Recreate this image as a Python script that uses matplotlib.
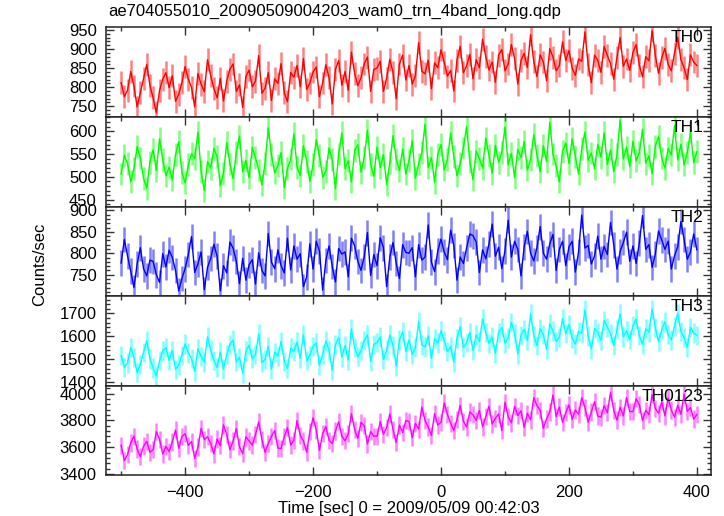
import numpy as np
import matplotlib
matplotlib.use('Agg')
import matplotlib.pyplot as plt
from matplotlib.ticker import MultipleLocator, AutoMinorLocator

# light curve bins (5 s), start time relative to 2009/05/09 00:42:03
t_start = -500
bin_sec = 5

th0 = [812, 775, 792, 841, 803, 748, 786, 822, 860, 805,
       772, 733, 791, 821, 838, 799, 830, 763, 781, 812,
       854, 821, 800, 748, 836, 808, 788, 872, 830, 797,
       772, 823, 764, 816, 847, 861, 789, 806, 747, 828,
       845, 801, 816, 883, 784, 797, 838, 765, 822, 810,
       862, 785, 762, 839, 826, 857, 801, 875, 794, 811,
       840, 853, 775, 811, 859, 825, 756, 847, 870, 805,
       841, 792, 892, 836, 804, 825, 861, 879, 789, 847,
       850, 868, 789, 824, 873, 839, 770, 861, 884, 819,
       857, 808, 830, 917, 842, 835, 871, 796, 864, 851,
       898, 865, 829, 844, 790, 871, 907, 838, 856, 886,
       822, 872, 851, 926, 880, 845, 866, 813, 884, 899,
       843, 861, 912, 876, 808, 870, 889, 852, 938, 867,
       828, 885, 866, 817, 901, 879, 843, 857, 919, 870,
       896, 850, 831, 874, 868, 945, 859, 812, 884, 871,
       839, 907, 883, 862, 821, 878, 930, 855, 874, 844,
       891, 912, 858, 827, 880, 869, 948, 884, 836, 877,
       902, 860, 843, 889, 931, 872, 851, 820, 885, 866,
       857]

th1 = [506, 547, 529, 489, 518, 566, 541, 497, 475, 532,
       559, 514, 583, 538, 502, 521, 493, 548, 577, 509,
       487, 526, 551, 540, 598, 512, 470, 533, 519, 562,
       544, 481, 507, 575, 528, 496, 553, 589, 511, 536,
       498, 564, 542, 515, 482, 530, 607, 548, 509, 525,
       553, 476, 518, 539, 594, 521, 503, 568, 534, 490,
       527, 581, 546, 499, 512, 563, 537, 474, 550, 596,
       518, 535, 489, 557, 570, 510, 543, 602, 527, 501,
       565, 520, 548, 483, 531, 590, 539, 514, 561, 506,
       536, 579, 497, 528, 553, 615, 520, 542, 488, 549,
       571, 515, 537, 596, 544, 502, 529, 563, 610, 533,
       494, 556, 540, 519, 585, 547, 508, 569, 532, 553,
       609, 526, 551, 498, 560, 542, 577, 515, 538, 592,
       547, 511, 568, 533, 619, 550, 524, 489, 556, 574,
       529, 583, 545, 506, 562, 598, 536, 552, 517, 571,
       543, 596, 527, 559, 511, 548, 624, 539, 565, 522,
       578, 535, 553, 604, 530, 546, 507, 567, 589, 541,
       519, 562, 548, 612, 537, 571, 526, 553, 598, 531,
       555]

th2 = [777, 832, 794, 758, 720, 775, 813, 764, 747, 784,
       781, 750, 732, 799, 768, 807, 790, 760, 712, 741,
       764, 797, 839, 755, 775, 803, 715, 767, 788, 821,
       793, 712, 771, 754, 826, 812, 781, 729, 788, 737,
       773, 785, 728, 801, 760, 747, 846, 779, 764, 808,
       771, 754, 835, 761, 817, 786, 799, 722, 745, 822,
       763, 828, 805, 714, 783, 817, 769, 733, 811, 798,
       803, 745, 835, 817, 781, 760, 792, 848, 748, 797,
       771, 836, 813, 722, 791, 825, 776, 741, 820, 802,
       800, 813, 745, 820, 784, 791, 866, 779, 757, 806,
       833, 803, 785, 854, 818, 737, 791, 776, 812, 845,
       841, 826, 755, 808, 787, 822, 868, 793, 814, 764,
       806, 877, 791, 828, 809, 747, 815, 851, 800, 782,
       813, 862, 800, 786, 822, 844, 760, 809, 828, 771,
       815, 828, 756, 803, 889, 812, 818, 775, 794, 840,
       786, 816, 797, 872, 820, 763, 804, 825, 849, 781,
       817, 776, 824, 888, 809, 820, 767, 798, 852, 831,
       809, 828, 763, 794, 815, 874, 832, 786, 803, 845,
       808]

th3 = [1517, 1466, 1484, 1552, 1508, 1443, 1479, 1530, 1582, 1502,
       1462, 1428, 1494, 1537, 1551, 1496, 1540, 1457, 1476, 1518,
       1567, 1528, 1505, 1447, 1546, 1513, 1488, 1598, 1541, 1496,
       1465, 1532, 1458, 1521, 1566, 1584, 1490, 1509, 1441, 1537,
       1561, 1503, 1522, 1611, 1486, 1500, 1556, 1459, 1531, 1514,
       1578, 1492, 1461, 1549, 1535, 1575, 1505, 1607, 1495, 1518,
       1556, 1571, 1475, 1521, 1580, 1539, 1452, 1564, 1595, 1511,
       1560, 1497, 1632, 1551, 1512, 1538, 1583, 1607, 1490, 1566,
       1573, 1598, 1499, 1541, 1606, 1559, 1471, 1585, 1619, 1534,
       1584, 1522, 1552, 1664, 1563, 1554, 1603, 1505, 1590, 1571,
       1624, 1583, 1535, 1556, 1488, 1592, 1641, 1551, 1573, 1617,
       1539, 1606, 1579, 1676, 1616, 1570, 1597, 1527, 1617, 1638,
       1571, 1593, 1661, 1613, 1524, 1605, 1630, 1583, 1698, 1602,
       1560, 1633, 1607, 1545, 1654, 1623, 1578, 1596, 1677, 1612,
       1651, 1591, 1567, 1622, 1614, 1715, 1601, 1545, 1634, 1618,
       1583, 1669, 1639, 1612, 1560, 1630, 1697, 1598, 1624, 1586,
       1646, 1675, 1604, 1565, 1633, 1618, 1718, 1639, 1577, 1629,
       1663, 1607, 1585, 1644, 1700, 1621, 1594, 1553, 1639, 1614,
       1605]

th0123 = [3614, 3500, 3544, 3632, 3682, 3586, 3528, 3608, 3644, 3562,
          3581, 3717, 3659, 3549, 3605, 3567, 3639, 3729, 3591, 3681,
          3700, 3614, 3642, 3516, 3600, 3740, 3656, 3678, 3628, 3550,
          3661, 3611, 3767, 3695, 3581, 3645, 3739, 3603, 3551, 3677,
          3647, 3615, 3693, 3790, 3657, 3561, 3627, 3681, 3725, 3593,
          3590, 3678, 3746, 3616, 3652, 3798, 3688, 3646, 3562, 3716,
          3820, 3728, 3576, 3702, 3754, 3652, 3626, 3720, 3790, 3682,
          3648, 3700, 3850, 3732, 3666, 3786, 3760, 3624, 3716, 3682,
          3681, 3791, 3697, 3747, 3849, 3731, 3635, 3765, 3709, 3799,
          3792, 3670, 3778, 3734, 3900, 3800, 3750, 3688, 3852, 3766,
          3786, 3930, 3846, 3778, 3724, 3808, 3912, 3794, 3750, 3862,
          3842, 3800, 3874, 3752, 3830, 3906, 3774, 3816, 3848, 3724,
          3936, 3828, 3782, 3906, 3836, 3872, 3748, 3854, 3804, 3970,
          3911, 3875, 3741, 3811, 3863, 3990, 3829, 3899, 3785, 3857,
          3916, 3808, 3878, 3846, 3970, 3898, 3786, 3864, 3940, 3832,
          3824, 3910, 3858, 4010, 3876, 3802, 3898, 3834, 3972, 3866,
          3866, 3962, 3918, 3798, 3876, 3844, 3992, 3890, 3854, 3940,
          3834, 3968, 3878, 3824, 3914, 3846, 3996, 3868, 3896, 3810,
          3845]

# typical 1-sigma error per band
errs = [30, 25, 30, 42, 65]

names = ['TH0', 'TH1', 'TH2', 'TH3', 'TH0123']
yticks = [[750, 800, 850, 900, 950],
          [450, 500, 550, 600],
          [750, 800, 850, 900],
          [1400, 1500, 1600, 1700],
          [3400, 3600, 3800, 4000]]
ylims = [(722, 957), (435, 631), (700, 909), (1386, 1775), (3390, 4060)]
colors = ['#ff0000', '#00ff00', '#0000ff', '#00ffff', '#ff00ff']

plt.rcParams['font.family'] = ['Liberation Sans', 'DejaVu Sans']
plt.rcParams['font.size'] = 12

fig, axes = plt.subplots(5, 1, figsize=(7.24, 5.16), dpi=100, sharex=True)
fig.subplots_adjust(left=0.147, right=0.982, top=0.947, bottom=0.079, hspace=0)

series = [th0, th1, th2, th3, th0123]
for ax, vals, err, name, yt, yl, col in zip(axes, series, errs, names, yticks, ylims, colors):
    vals = np.array(vals)
    t = t_start + bin_sec * np.arange(len(vals))
    ax.errorbar(t, vals, yerr=err, fmt='none', ecolor=col, alpha=0.5, elinewidth=1.8)
    ax.plot(t, vals, color=col, lw=1.0)
    ax.set_ylim(yl)
    ax.set_yticks(yt)
    ax.yaxis.set_minor_locator(AutoMinorLocator(5))
    ax.xaxis.set_major_locator(MultipleLocator(200))
    ax.xaxis.set_minor_locator(MultipleLocator(100))
    ax.tick_params(which='both', direction='in', top=True, right=True, width=1, color='#333333')
    ax.tick_params(which='major', length=6, pad=7)
    ax.tick_params(which='minor', length=3)
    for s in ax.spines.values():
        s.set_linewidth(1.1)
        s.set_color('#222222')
    ax.text(0.987, 0.965, name, transform=ax.transAxes, ha='right', va='top', fontsize=12.5)

axes[-1].set_xlim(-523, 422)
axes[-1].set_xlabel('Time [sec] 0 = 2009/05/09 00:42:03', labelpad=1)
fig.text(0.055, 0.487, 'Counts/sec', rotation=90, ha='center', va='center', fontsize=12)
fig.text(0.149, 0.977, 'ae704055010_20090509004203_wam0_trn_4band_long.qdp', ha='left', va='center', fontsize=12)

fig.savefig('out.png', dpi=100)
